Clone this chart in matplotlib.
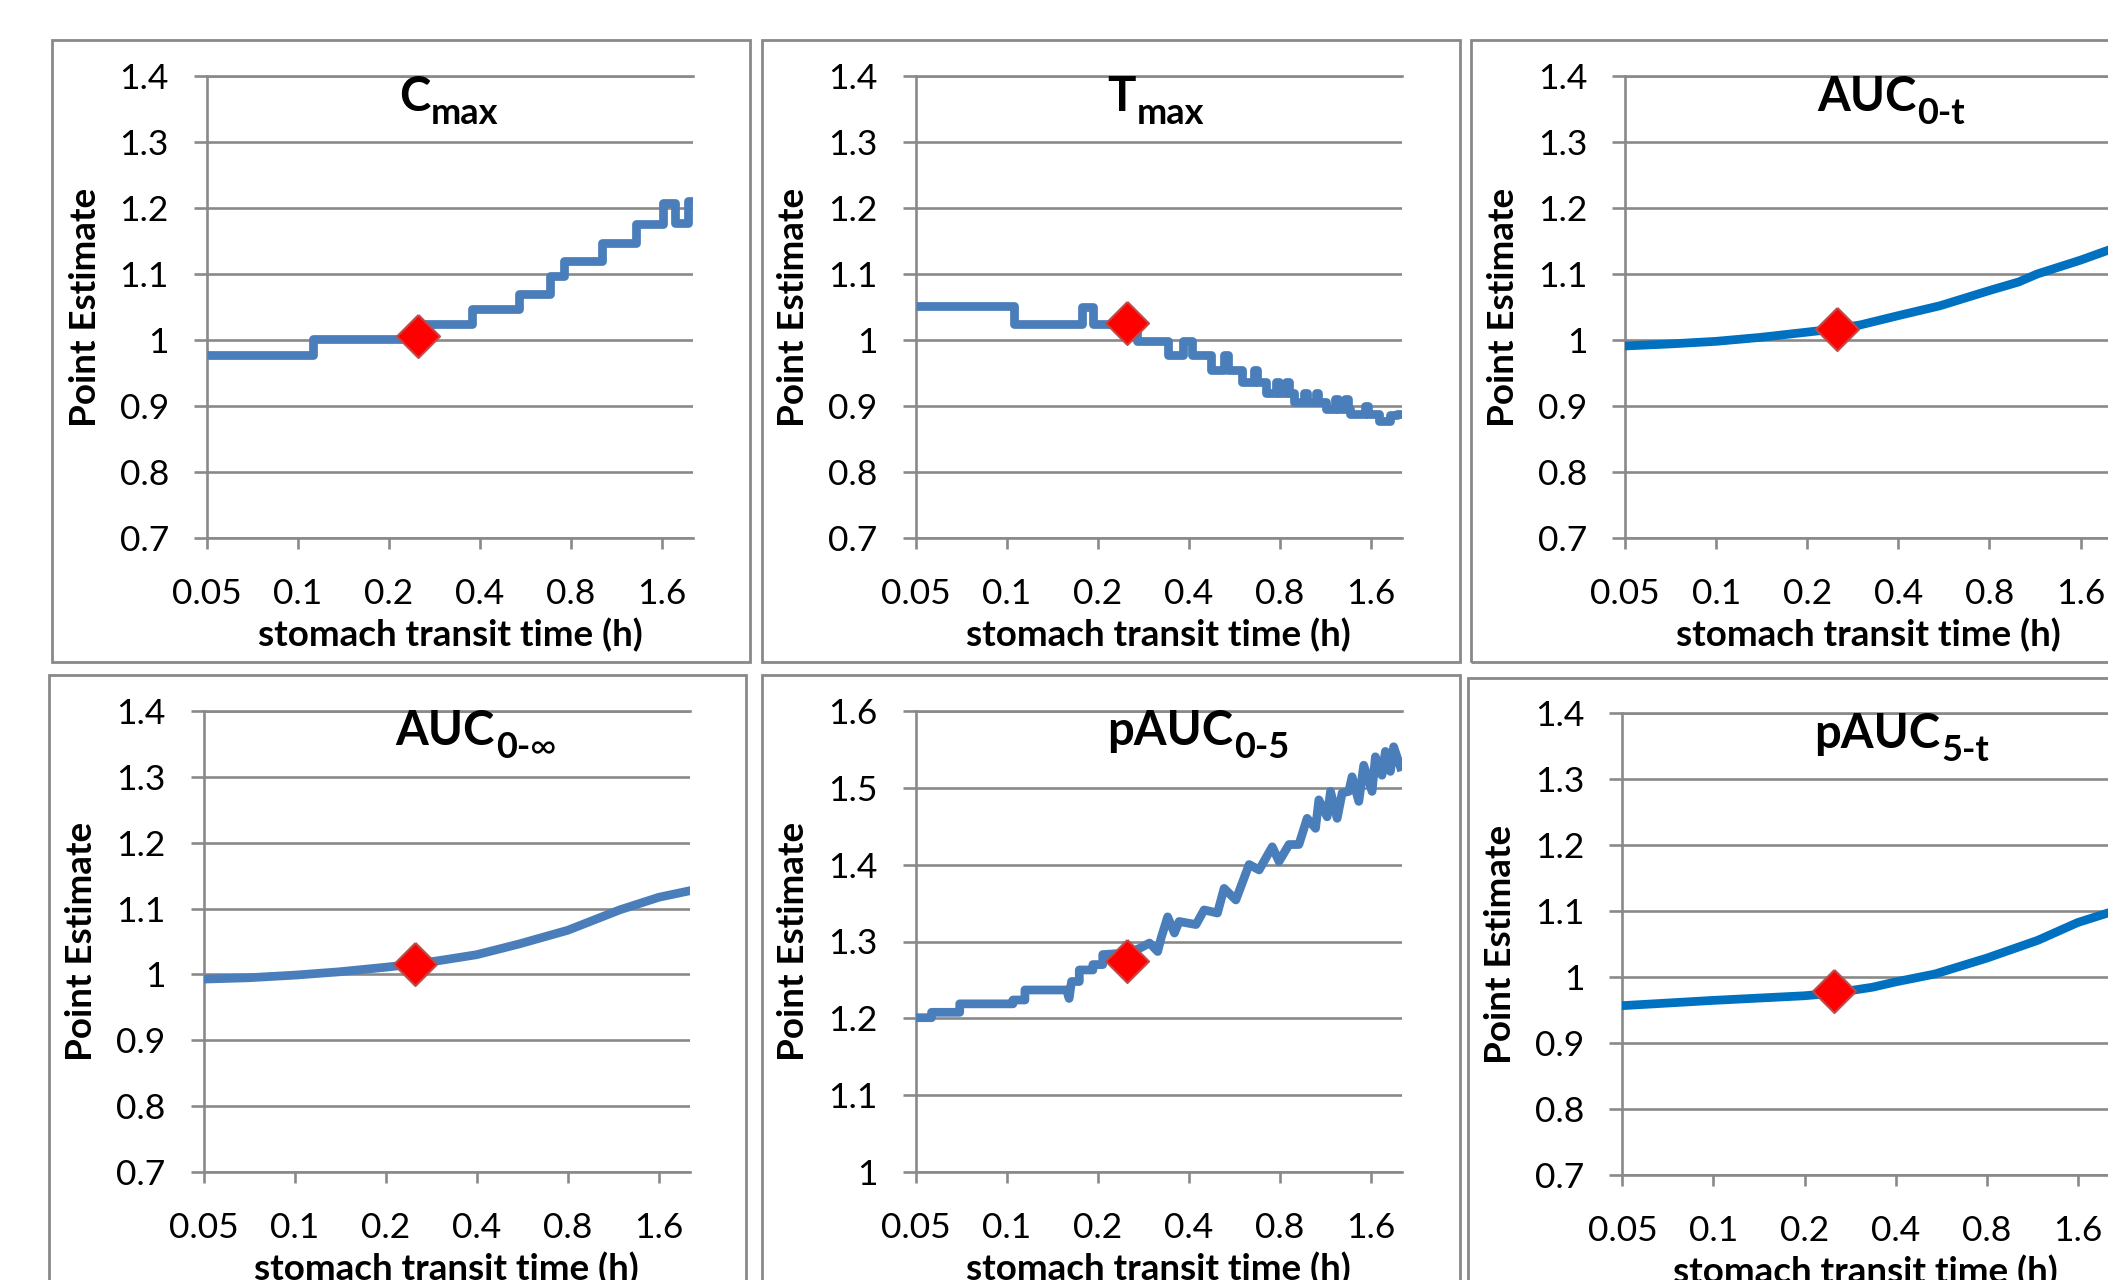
import numpy as np
import matplotlib.pyplot as plt
from matplotlib.patches import Rectangle
from matplotlib.ticker import NullLocator

plt.rcParams['font.family'] = ['Lato', 'DejaVu Sans']

W, H = 2108, 1280

# x axis (stomach transit time, h)
xticks = [0.05, 0.1, 0.2, 0.4, 0.8, 1.6]
xtick_labels = ['0.05', '0.1', '0.2', '0.4', '0.8', '1.6']
x_ref = 0.25

# Cmax (step curve)
cmax_x = [0.05, 0.112, 0.257, 0.378, 0.537, 0.682, 0.762, 1.016, 1.316, 1.61, 1.77, 1.95, 2.03]
cmax_y = [0.977, 1.001, 1.025, 1.047, 1.070, 1.097, 1.120, 1.147, 1.176, 1.207, 1.178, 1.211, 1.211]
cmax_ref = 1.006

# Tmax (step curve)
tmax_x = [0.05, 0.106, 0.177, 0.193, 0.271, 0.341, 0.382, 0.410, 0.474, 0.525,
          0.540, 0.602, 0.660, 0.675, 0.720, 0.776, 0.795, 0.837, 0.858, 0.892,
          0.962, 0.985, 1.051, 1.075, 1.134, 1.223, 1.25, 1.32, 1.35, 1.37,
          1.535, 1.57, 1.70, 1.85, 1.95, 2.03]
tmax_y = [1.051, 1.025, 1.050, 1.025, 0.999, 0.977, 0.999, 0.977, 0.955, 0.977,
          0.955, 0.936, 0.955, 0.936, 0.919, 0.936, 0.919, 0.936, 0.919, 0.906,
          0.920, 0.906, 0.920, 0.906, 0.896, 0.910, 0.896, 0.910, 0.896, 0.888,
          0.900, 0.888, 0.878, 0.886, 0.888, 0.888]
tmax_ref = 1.026

# AUC0-t
auc0t_x = [0.05, 0.07, 0.1, 0.14, 0.2, 0.25, 0.3, 0.4, 0.55, 0.8, 1.0, 1.15, 1.6, 2.03]
auc0t_y = [0.991, 0.994, 0.998, 1.004, 1.012, 1.017, 1.023, 1.037, 1.052, 1.075, 1.088, 1.100, 1.121, 1.138]
auc0t_ref = 1.016

# AUC0-inf
aucinf_x = [0.05, 0.07, 0.1, 0.14, 0.2, 0.25, 0.3, 0.4, 0.55, 0.8, 1.19, 1.6, 2.03]
aucinf_y = [0.993, 0.995, 0.999, 1.004, 1.011, 1.016, 1.021, 1.030, 1.046, 1.067, 1.098, 1.117, 1.127]
aucinf_ref = 1.016

# pAUC0-5
pauc05_x = [0.05, 0.0565, 0.0565, 0.070, 0.070, 0.105, 0.105, 0.115, 0.115, 0.158,
            0.161, 0.164, 0.174, 0.174, 0.193, 0.193, 0.208, 0.208, 0.25, 0.275,
            0.297, 0.316, 0.324, 0.341, 0.359, 0.372, 0.423, 0.450, 0.498, 0.524,
            0.573, 0.634, 0.684, 0.756, 0.796, 0.859, 0.926, 0.986, 1.051, 1.078,
            1.148, 1.178, 1.239, 1.287, 1.354, 1.388, 1.461, 1.517, 1.616, 1.658,
            1.743, 1.789, 1.858, 1.905, 2.004]
pauc05_y = [1.201, 1.201, 1.208, 1.208, 1.219, 1.219, 1.224, 1.224, 1.237, 1.237,
            1.226, 1.248, 1.248, 1.263, 1.263, 1.270, 1.270, 1.283, 1.285, 1.291,
            1.298, 1.287, 1.304, 1.332, 1.311, 1.326, 1.322, 1.341, 1.337, 1.369,
            1.354, 1.400, 1.393, 1.423, 1.404, 1.426, 1.426, 1.460, 1.447, 1.484,
            1.462, 1.495, 1.460, 1.493, 1.495, 1.514, 1.482, 1.529, 1.495, 1.540,
            1.516, 1.547, 1.521, 1.553, 1.527]
pauc05_ref = 1.275

# pAUC5-t
pauc5t_x = [0.05, 0.1, 0.2, 0.25, 0.336, 0.4, 0.54, 0.8, 1.18, 1.6, 2.03]
pauc5t_y = [0.957, 0.965, 0.972, 0.976, 0.985, 0.993, 1.005, 1.029, 1.056, 1.083, 1.098]
pauc5t_ref = 0.979

yticks_a = [0.7, 0.8, 0.9, 1.0, 1.1, 1.2, 1.3, 1.4]
yticks_b = [1.0, 1.1, 1.2, 1.3, 1.4, 1.5, 1.6]

GRAY = '#898989'
BLUE1 = '#4A7EBB'
BLUE2 = '#0070C0'

panels = [
    # title, subscript parts, x, y, steps, color, ref, yticks, axes px (l,t,r,b), box px (l,t,r,b)
    ('C', [('max', 'bold')], cmax_x, cmax_y, True, BLUE1, cmax_ref, yticks_a,
     (207, 76, 693, 538), (52, 40, 750, 662)),
    ('T', [('max', 'bold')], tmax_x, tmax_y, True, BLUE1, tmax_ref, yticks_a,
     (915.5, 76, 1402, 538), (762, 40, 1460, 662)),
    ('AUC', [('0-t', 'bold')], auc0t_x, auc0t_y, False, BLUE2, auc0t_ref, yticks_a,
     (1625.3, 76, 2111.8, 538), (1471, 40, 2169, 662)),
    ('AUC', [('0-', 'bold'), ('\u221e', 'normal')], aucinf_x, aucinf_y, False, BLUE1,
     aucinf_ref, yticks_a, (203.6, 710.6, 690, 1172.4), (48.5, 675, 746, 1297)),
    ('pAUC', [('0-5', 'bold')], pauc05_x, pauc05_y, False, BLUE1, pauc05_ref, yticks_b,
     (915.5, 710.6, 1402, 1172.4), (762, 675, 1460, 1297)),
    ('pAUC', [('5-t', 'bold')], pauc5t_x, pauc5t_y, False, BLUE2, pauc5t_ref, yticks_a,
     (1622.4, 713.4, 2109, 1175.2), (1468, 678, 2166, 1300)),
]

diamond = [(0, 1), (1, 0), (0, -1), (-1, 0), (0, 1)]

fig = plt.figure(figsize=(W / 100, H / 100), dpi=100)
fig.patch.set_facecolor('white')

for title, subs, xs, ys, steps, color, ref, yt, arect, brect in panels:
    bl, bt, br, bb = brect
    fig.add_artist(Rectangle((bl / W, 1 - bb / H), (br - bl) / W, (bb - bt) / H,
                             transform=fig.transFigure, fill=False,
                             edgecolor=GRAY, lw=2, zorder=0))

    l, t, r, b = arect
    ax = fig.add_axes([l / W, 1 - b / H, (r - l) / W, (b - t) / H])
    ax.set_facecolor('none')

    if steps:
        ax.plot(xs, ys, drawstyle='steps-post', color=color, lw=6.3,
                solid_joinstyle='round', solid_capstyle='butt', zorder=3)
    else:
        ax.plot(xs, ys, color=color, lw=6.3, solid_joinstyle='round', zorder=3)
    ax.plot([x_ref], [ref], marker=diamond, ms=31, mfc='#FF0000',
            mec='#BE4B48', mew=1.5, ls='none', zorder=4, clip_on=False)

    ax.set_xscale('log', base=2)
    ax.set_xlim(0.05, 2.03)
    ax.set_xticks(xticks)
    ax.set_xticklabels(xtick_labels)
    ax.xaxis.set_minor_locator(NullLocator())
    ax.set_ylim(yt[0], yt[-1])
    ax.set_yticks(yt)
    ax.set_yticklabels(['{:g}'.format(v) for v in yt])
    ax.yaxis.set_minor_locator(NullLocator())

    ax.yaxis.grid(True, color=GRAY, lw=1.9)
    ax.set_axisbelow(True)
    for side in ['left', 'bottom', 'top']:
        ax.spines[side].set_color(GRAY)
        ax.spines[side].set_linewidth(1.9)
    ax.spines['right'].set_visible(False)
    ax.tick_params(axis='y', length=9.4, width=1.9, color=GRAY, pad=18,
                   labelsize=25.5)
    ax.tick_params(axis='x', length=7.8, width=1.9, color=GRAY, pad=21,
                   labelsize=25.5)

    ax.set_xlabel('stomach transit time (h)', fontsize=26.5, fontweight='bold',
                  va='center')
    ax.xaxis.set_label_coords(0.5, -0.21)
    ax.set_ylabel('Point Estimate', fontsize=26.5, fontweight='bold', va='center')
    ax.yaxis.set_label_coords(-0.251, 0.5)

    # chart title with subscript
    ty = t + 34.6
    prev = fig.text((l + 192) / W, 1 - ty / H, title, fontsize=34,
                    fontweight='bold', va='baseline', ha='left')
    first = True
    for s, wgt in subs:
        prev = ax.annotate(s, xy=(1, 0), xycoords=prev,
                           xytext=(0.5, -8) if first else (0, 0),
                           textcoords='offset points', fontsize=26,
                           fontweight=wgt, va='bottom', ha='left')
        first = False

fig.savefig('out.png', dpi=100, facecolor='white')
